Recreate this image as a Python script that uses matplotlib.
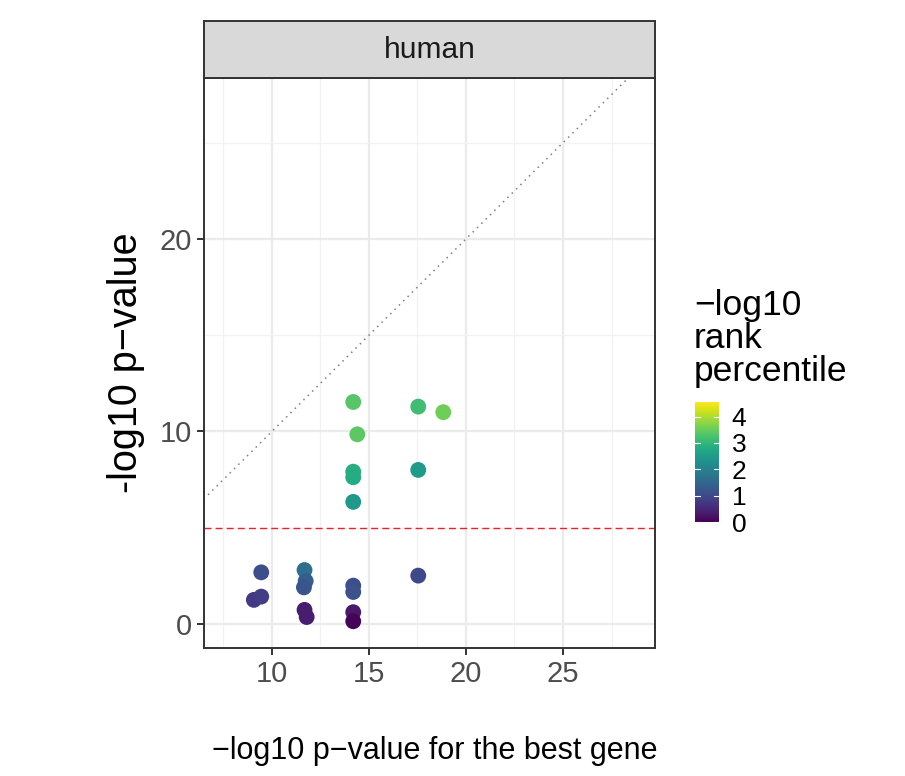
import numpy as np
import matplotlib
matplotlib.use("Agg")
import matplotlib.pyplot as plt
from matplotlib.ticker import MultipleLocator

plt.rcParams['font.family'] = ['Liberation Sans', 'DejaVu Sans']

# best-gene -log10 p (x), -log10 p (y), -log10 rank percentile (colour)
best_gene_p = [14.19, 17.54, 18.83, 14.40, 14.19, 14.19, 17.54, 14.19,
               9.45, 9.07, 9.45, 11.68, 11.74, 11.65, 11.68, 11.79,
               14.19, 14.19, 14.19, 14.19, 17.54]
pval = [11.53, 11.29, 11.00, 9.85, 7.91, 7.62, 8.00, 6.34,
        2.68, 1.25, 1.42, 2.80, 2.23, 1.90, 0.73, 0.36,
        1.99, 1.66, 0.61, 0.14, 2.51]
rank_pct = [3.35, 3.15, 3.55, 3.40, 2.85, 2.80, 2.50, 2.45,
            1.10, 0.75, 0.80, 1.65, 1.35, 1.20, 0.35, 0.35,
            1.10, 1.15, 0.30, 0.05, 1.00]
facet = "human"
threshold = 5

W, H = 905, 776
fig = plt.figure(figsize=(W / 100, H / 100), dpi=100)

# panel
ax = fig.add_axes([204 / W, (H - 648) / H, 451 / W, 570 / H])
ax.set_xlim(6.5, 29.74)
ax.set_ylim(-1.25, 28.36)
ax.xaxis.set_major_locator(MultipleLocator(5))
ax.xaxis.set_minor_locator(MultipleLocator(2.5))
ax.yaxis.set_major_locator(MultipleLocator(10))
ax.yaxis.set_minor_locator(MultipleLocator(5))
ax.grid(which='major', color='#EBEBEB', lw=1.6, zorder=0)
ax.grid(which='minor', color='#F2F2F2', lw=0.9, zorder=0)
ax.set_axisbelow(True)
for s in ax.spines.values():
    s.set_color('#333333')
    s.set_linewidth(1.4)
ax.tick_params(which='major', length=5, width=1.4, color='#333333',
               labelsize=21, labelcolor='#4D4D4D', pad=4)
ax.tick_params(which='minor', length=0)

# y = x reference and p threshold
ax.plot([0, 40], [0, 40], ls=(0, (1, 3)), color='#7F7F7F', lw=1.1, zorder=1)
ax.axhline(threshold, color='#E8242B', ls=(0, (5, 3)), lw=1.0, zorder=1)

sc = ax.scatter(best_gene_p, pval, c=rank_pct, cmap='viridis', vmin=0, vmax=4.55,
                s=130, linewidths=0, zorder=3)

ax.set_xlabel('\u2212log10 p\u2212value for the best gene', fontsize=22, labelpad=32)
ax.xaxis.set_label_coords(0.512, -0.155)
ax.set_ylabel('-log10 p\u2212value', fontsize=28.5, labelpad=10)

# facet strip
strip = fig.add_axes([204 / W, (H - 78) / H, 451 / W, 57 / H])
strip.set_facecolor('#D9D9D9')
strip.set_xticks([])
strip.set_yticks([])
for s in strip.spines.values():
    s.set_color('#333333')
    s.set_linewidth(1.4)
strip.text(0.5, 0.5, facet, ha='center', va='center', fontsize=21.5, color='#1A1A1A',
           transform=strip.transAxes)

# colour bar
cax = fig.add_axes([695 / W, (H - 522) / H, 24 / W, 120 / H])
cb = fig.colorbar(sc, cax=cax)
cb.outline.set_visible(False)
cb.set_ticks([0, 1, 2, 3, 4])
cax.tick_params(length=0, labelsize=19, pad=9, labelcolor='black')
for t in [0, 1, 2, 3, 4]:
    cax.plot([0, 0.2], [t, t], color='white', lw=0.8, transform=cax.get_yaxis_transform())
    cax.plot([0.8, 1], [t, t], color='white', lw=0.8, transform=cax.get_yaxis_transform())
fig.text(694 / W, (H - 388) / H, '\u2212log10\nrank\npercentile', fontsize=25.5,
         ha='left', va='bottom', linespacing=1.0)

fig.savefig('out.png', dpi=100, facecolor='white')
